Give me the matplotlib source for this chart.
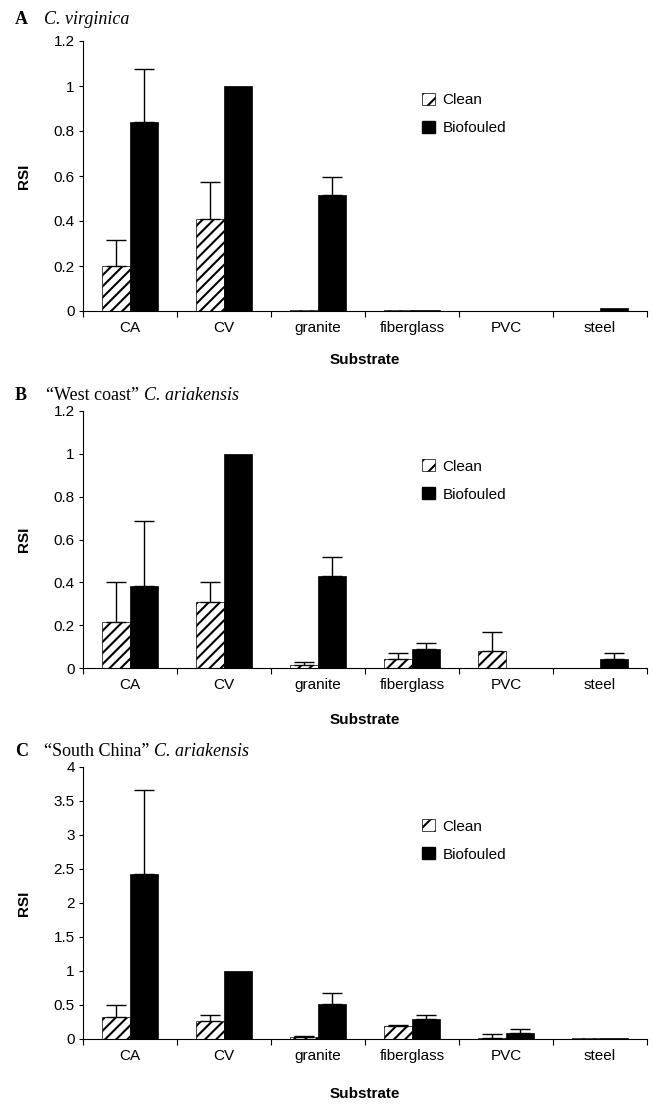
import numpy as np
import matplotlib.pyplot as plt
from matplotlib.patches import Patch

plt.rcParams['font.family'] = ['Liberation Sans', 'DejaVu Sans']
plt.rcParams['hatch.linewidth'] = 1.5

substrates = ["CA", "CV", "granite", "fiberglass", "PVC", "steel"]

# A: C. virginica
a_clean = [0.20, 0.41, 0.005, 0.005, 0.0, 0.0]
a_clean_err = [0.115, 0.165, 0.0, 0.0, 0.0, 0.0]
a_fouled = [0.84, 1.0, 0.515, 0.004, 0.0, 0.012]
a_fouled_err = [0.235, 0.0, 0.08, 0.0, 0.0, 0.0]

# B: "West coast" C. ariakensis
b_clean = [0.215, 0.31, 0.015, 0.04, 0.08, 0.0]
b_clean_err = [0.185, 0.09, 0.015, 0.03, 0.09, 0.0]
b_fouled = [0.385, 1.0, 0.43, 0.09, 0.0, 0.04]
b_fouled_err = [0.30, 0.0, 0.09, 0.025, 0.0, 0.03]

# C: "South China" C. ariakensis
c_clean = [0.32, 0.27, 0.03, 0.19, 0.01, 0.02]
c_clean_err = [0.18, 0.08, 0.01, 0.01, 0.07, 0.0]
c_fouled = [2.43, 1.0, 0.51, 0.29, 0.09, 0.01]
c_fouled_err = [1.23, 0.0, 0.17, 0.07, 0.05, 0.0]

W, H = 653, 1105
fig = plt.figure(figsize=(W / 100, H / 100), dpi=100)

panels = [
    # letter, plain part, italic part, axes top/bottom px, ymax, ystep, title y, substrate y
    ("A", "", "C. virginica", 41, 311, 1.2, 0.2, 19, 360,
     a_clean, a_clean_err, a_fouled, a_fouled_err),
    ("B", "\u201cWest coast\u201d ", "C. ariakensis", 411, 668, 1.2, 0.2, 395, 720,
     b_clean, b_clean_err, b_fouled, b_fouled_err),
    ("C", "\u201cSouth China\u201d ", "C. ariakensis", 767, 1039, 4.0, 0.5, 752, 1094,
     c_clean, c_clean_err, c_fouled, c_fouled_err),
]

x = np.arange(len(substrates)) + 0.5
bw = 0.3
left, right = 83, 647

renderer = fig.canvas.get_renderer()

for (letter, plain, ital, top, bot, ymax, ystep, ty, sy,
     clean, clean_err, fouled, fouled_err) in panels:
    ax = fig.add_axes([left / W, 1 - bot / H, (right - left) / W, (bot - top) / H])
    clean = np.array(clean)
    fouled = np.array(fouled)
    clean_err = np.array(clean_err)
    fouled_err = np.array(fouled_err)

    ax.bar(x - bw / 2, clean, bw, color='white', edgecolor='black',
           hatch='///', linewidth=0.5)
    ax.bar(x + bw / 2, fouled, bw, color='black', edgecolor='black', linewidth=0.5)

    for xs, vals, errs in [(x - bw / 2, clean, clean_err), (x + bw / 2, fouled, fouled_err)]:
        m = errs > 0
        ax.errorbar(xs[m], vals[m], yerr=[np.zeros(m.sum()), errs[m]], fmt='none',
                    ecolor='black', elinewidth=1.0, capsize=7, capthick=1.0)

    ax.set_xlim(0, len(substrates))
    ax.set_ylim(0, ymax)
    ax.set_yticks(np.arange(0, ymax + ystep / 2, ystep))
    ax.set_yticklabels([f"{v:g}" for v in np.arange(0, ymax + ystep / 2, ystep)])
    ax.set_xticks(np.arange(len(substrates) + 1))
    ax.set_xticklabels([])
    ax.set_xticks(x, minor=True)
    ax.set_xticklabels(substrates, minor=True)
    ax.tick_params(axis='x', which='major', direction='out', length=4, width=0.8)
    ax.tick_params(axis='x', which='minor', length=0, pad=7, labelsize=11)
    ax.tick_params(axis='y', direction='out', length=3, width=0.8, pad=3, labelsize=11)
    for s in ['top', 'right']:
        ax.spines[s].set_visible(False)
    for s in ['left', 'bottom']:
        ax.spines[s].set_linewidth(0.8)

    handles = [Patch(facecolor='white', edgecolor='black', hatch='//', linewidth=0.5),
               Patch(facecolor='black', edgecolor='black')]
    ax.legend(handles, ["Clean", "Biofouled"], loc='center left',
              bbox_to_anchor=(0.601, 0.73), frameon=False, fontsize=11,
              handlelength=0.85, handleheight=0.85, handletextpad=0.5,
              labelspacing=0.9, borderpad=0, borderaxespad=0)

    yc = (top + bot) / 2
    fig.text(24 / W, 1 - yc / H, "RSI", rotation=90, ha='center', va='center',
             fontsize=11, fontweight='bold')
    fig.text((left + right) / 2 / W, 1 - sy / H, "Substrate", ha='center',
             va='center', fontsize=11, fontweight='bold')

    fig.text(15 / W, 1 - ty / H, letter, ha='left', va='center', fontsize=13,
             fontweight='bold', family='Liberation Serif')
    xs0 = 46 if plain.startswith("\u201cW") else 44
    t = fig.text(xs0 / W, 1 - ty / H, plain, ha='left', va='center', fontsize=13,
                 family='Liberation Serif')
    ext = t.get_window_extent(renderer)
    x_it = ext.x1 if plain else xs0
    fig.text(x_it / W, 1 - ty / H, ital, ha='left', va='center', fontsize=13,
             style='italic', family='Liberation Serif')

fig.savefig("out.png", dpi=100)
